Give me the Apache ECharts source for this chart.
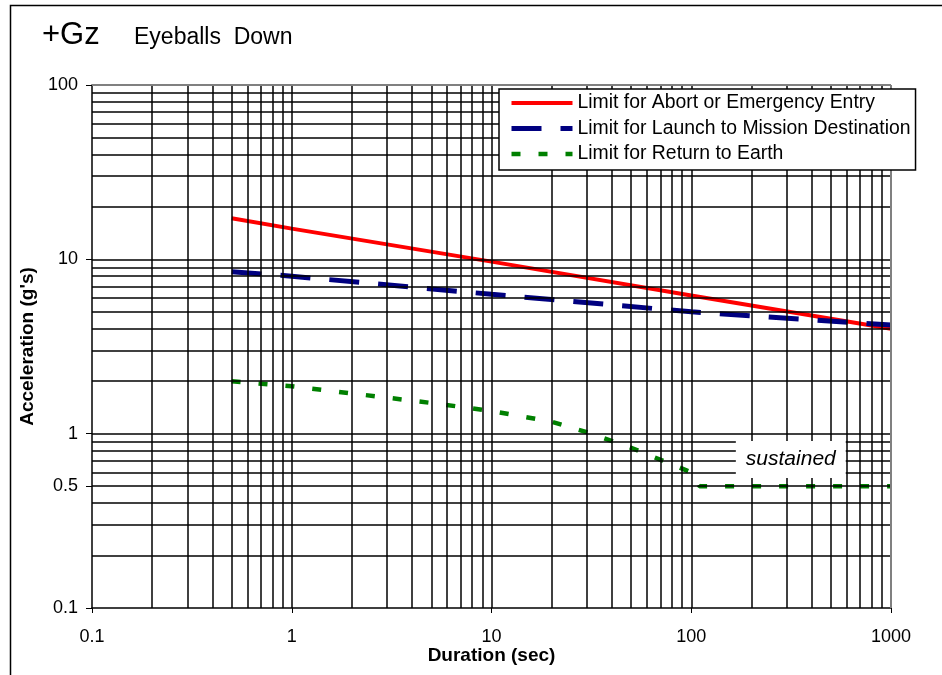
<!DOCTYPE html>
<html><head><meta charset="utf-8">
<script src="https://cdn.jsdelivr.net/npm/echarts@6/dist/echarts.min.js"></script>
<style>html,body{margin:0;padding:0;background:#fff}#c{width:942px;height:675px}</style>
</head><body><div id="c"></div>
<script>
const seriesNames = ['Limit for Abort or Emergency Entry', 'Limit for Launch to Mission Destination', 'Limit for Return to Earth'];
const abortX = [0.5, 1, 10, 100, 1000];
const abortY = [17.2, 15, 9.7, 6.2, 4.0];
const launchX = [0.5, 1, 10, 100, 1000];
const launchY = [8.5, 8.0, 6.3, 5.0, 4.2];
const returnX = [0.5, 1, 5, 10, 20, 30, 50, 100, 110, 1000];
const returnY = [2.0, 1.87, 1.5, 1.35, 1.17, 1.02, 0.83, 0.6, 0.5, 0.5];
const xTickLabels = [0.1, 1, 10, 100, 1000];
const yTickLabels = [0.1, 0.5, 1, 10, 100];
const decadesX = [0.1, 1, 10, 100];
const decadesY = [0.1, 1, 10];
const annotationText = 'sustained';
const annotationAt = [315, 0.71];

const FONT = "'Liberation Sans', Arial, sans-serif";
const fmt = v => String(parseFloat(Number(v).toPrecision(4)));
const zip = (xs, ys) => xs.map((x, i) => [x, ys[i]]);

// grid line values: every integer multiple inside each decade
const vLines = [], hLines = [];
decadesX.forEach(d => { for (let k = 1; k <= 9; k++) { const v = parseFloat((d * k).toPrecision(4)); if (v > 0.1 && v < 1000) vLines.push(v); } });
decadesY.forEach(d => { for (let k = 1; k <= 9; k++) { const v = parseFloat((d * k).toPrecision(4)); if (v > 0.1 && v < 100) hLines.push(v); } });

const chart = echarts.init(document.getElementById('c'), null, {renderer: 'canvas'});
chart.setOption({
  animation: false,
  backgroundColor: '#fff',
  textStyle: {fontFamily: FONT},
  graphic: [
    {type: 'rect', shape: {x: 10.5, y: 5.5, width: 1000, height: 1000}, style: {fill: 'none', stroke: '#000', lineWidth: 1.5}, z: 0},
    {type: 'text', style: {text: '+Gz', x: 42, y: 35, textVerticalAlign: 'middle', font: "31px 'Liberation Sans', Arial", fill: '#000'}},
    {type: 'text', style: {text: 'Eyeballs  Down', x: 134, y: 37.5, textVerticalAlign: 'middle', font: "23px 'Liberation Sans', Arial", fill: '#000'}}
  ],
  grid: {left: 92, right: 51, top: 85, bottom: 67, containLabel: false},
  legend: {
    data: seriesNames,
    left: 499, top: 89, orient: 'vertical', z: 20,
    backgroundColor: '#fff', borderColor: '#000', borderWidth: 1.5,
    padding: [4, 5, 6, 10],
    itemWidth: 61, itemHeight: 14, itemGap: 5.5,
    itemStyle: {opacity: 0},
    lineStyle: {width: 'inherit', type: 'inherit'},
    textStyle: {fontFamily: FONT, fontSize: 19.4, color: '#000', lineHeight: 20}
  },
  xAxis: {
    type: 'log', logBase: 10, min: 0.1, max: 1000,
    splitLine: {show: false},
    axisLine: {lineStyle: {color: '#000', width: 1.5}},
    axisTick: {show: true, length: 5, lineStyle: {color: '#000'}},
    axisLabel: {fontFamily: FONT, fontSize: 18, color: '#000', margin: 20, formatter: fmt},
    name: 'Duration (sec)', nameLocation: 'middle', nameGap: 38, nameMoveOverlap: false,
    nameTextStyle: {fontFamily: FONT, fontWeight: 'bold', fontSize: 19, color: '#000'}
  },
  yAxis: {
    type: 'log', logBase: 10, min: 0.1, max: 100,
    splitLine: {show: false},
    axisLine: {lineStyle: {color: '#000', width: 1.5}},
    axisTick: {show: true, length: 6, lineStyle: {color: '#000'}, customValues: yTickLabels},
    axisLabel: {fontFamily: FONT, fontSize: 18, color: '#000', margin: 14, formatter: fmt, customValues: yTickLabels},
    name: "Acceleration (g's)", nameLocation: 'middle', nameGap: 55,
    nameTextStyle: {fontFamily: FONT, fontWeight: 'bold', fontSize: 19, color: '#000'}
  },
  series: [
    {
      name: 'grid', type: 'line', data: [], silent: true, z: 1, symbol: 'none',
      markLine: {
        silent: true, symbol: ['none', 'none'], animation: false,
        label: {show: false},
        lineStyle: {color: '#000', width: 1.5, type: 'solid'},
        data: vLines.map(v => ({xAxis: v})).concat(hLines.map(v => ({yAxis: v})))
          .concat([{xAxis: 1000, lineStyle: {color: '#808080', width: 2}}, {yAxis: 100, lineStyle: {color: '#808080', width: 2}}])
      }
    },
    {
      name: seriesNames[0], type: 'line', z: 3, symbol: 'none', data: zip(abortX, abortY),
      lineStyle: {color: '#ff0000', width: 4, type: 'solid'}, itemStyle: {color: '#ff0000'}
    },
    {
      name: seriesNames[1], type: 'line', z: 3, symbol: 'none', data: zip(launchX, launchY),
      lineStyle: {color: '#000080', width: 5, type: [30, 19]}, itemStyle: {color: '#000080'}
    },
    {
      name: seriesNames[2], type: 'line', z: 3, symbol: 'none', data: zip(returnX, returnY),
      lineStyle: {color: '#008000', width: 4.5, type: [9, 18]}, itemStyle: {color: '#008000'},
      markPoint: {
        silent: true, animation: false,
        data: [{
          coord: annotationAt, symbol: 'circle', symbolSize: 1, itemStyle: {color: 'rgba(0,0,0,0)'},
          label: {show: true, position: 'inside', formatter: annotationText, backgroundColor: '#fff',
            padding: [8, 10], fontStyle: 'italic', fontSize: 21, fontFamily: FONT, color: '#000'}
        }]
      }
    }
  ]
});
</script></body></html>
